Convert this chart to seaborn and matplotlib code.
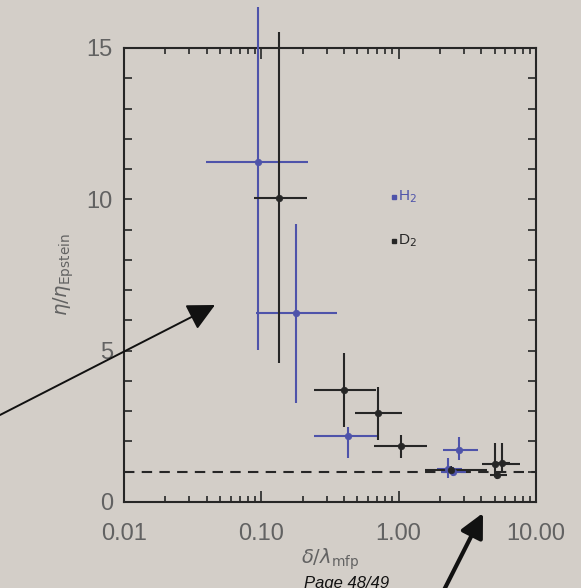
import numpy as np
import pandas as pd
import matplotlib
matplotlib.use("Agg")
import matplotlib.pyplot as plt
from matplotlib.ticker import LogLocator, NullFormatter, MultipleLocator
import seaborn as sns

# H2 measurements: centre values and error-bar bounds
h2_x = [0.095, 0.18, 0.425, 2.74, 2.30, 2.50]
h2_y = [11.24, 6.23, 2.18, 1.72, 1.10, 0.98]
h2_xlo = [0.0395, 0.092, 0.2415, 2.11, 1.90, 2.05]
h2_xhi = [0.218, 0.353, 0.706, 3.80, 2.90, 3.10]
h2_ylo = [5.02, 3.26, 1.45, 1.39, 0.80, 0.85]
h2_yhi = [16.35, 9.2, 2.48, 2.16, 1.45, 1.15]

# D2 measurements
d2_x = [0.1355, 0.40, 0.711, 1.035, 2.40, 5.0, 5.7, 5.2]
d2_y = [10.05, 3.70, 2.93, 1.85, 1.05, 1.27, 1.28, 0.90]
d2_xlo = [0.088, 0.2415, 0.48, 0.66, 1.55, 4.03, 5.0, 4.6]
d2_xhi = [0.214, 0.69, 1.054, 1.60, 4.4, 7.66, 6.5, 6.2]
d2_ylo = [4.58, 2.48, 2.05, 1.44, 0.92, 0.83, 1.0, 0.75]
d2_yhi = [15.54, 4.91, 3.80, 2.21, 1.20, 1.95, 1.95, 1.0]

# Epstein limit
epstein_level = 1.0

x_ticks = [0.01, 0.1, 1.0, 10.0]
x_tick_labels = ["0.01", "0.10", "1.00", "10.00"]
y_ticks = [0, 5, 10, 15]
y_tick_labels = ["0", "5", "10", "15"]

BG = "#d3cec8"
BLUE = "#4e53aa"
BLACK = "#262626"
TEXT = "#626262"

sns.set_theme(style="ticks")
plt.rcParams["font.family"] = ["Liberation Sans", "DejaVu Sans"]
plt.rcParams["mathtext.fontset"] = "dejavusans"

fig = plt.figure(figsize=(5.81, 5.88), dpi=100, facecolor=BG)
ax = fig.add_axes([0.2134, 0.1463, 0.709, 0.7721])
ax.set_facecolor(BG)

def draw_series(xs, ys, xlo, xhi, ylo, yhi, color):
    df = pd.DataFrame({"x": xs, "y": ys})
    xs = np.asarray(xs); ys = np.asarray(ys)
    xerr = [xs - np.asarray(xlo), np.asarray(xhi) - xs]
    yerr = [ys - np.asarray(ylo), np.asarray(yhi) - ys]
    eb = ax.errorbar(xs, ys, xerr=xerr, yerr=yerr, fmt="none",
                     ecolor=color, elinewidth=1.5, capsize=0, zorder=3)
    for coll in eb[2]:
        coll.set_clip_on(False)
    sns.scatterplot(data=df, x="x", y="y", ax=ax, color=color, s=22,
                    edgecolor=color, linewidth=0.5, zorder=4, legend=False)

draw_series(h2_x, h2_y, h2_xlo, h2_xhi, h2_ylo, h2_yhi, BLUE)
draw_series(d2_x, d2_y, d2_xlo, d2_xhi, d2_ylo, d2_yhi, BLACK)

ax.axhline(epstein_level, color=BLACK, lw=1.5, ls=(0, (5, 3.5)), zorder=2)

ax.set_xscale("log")
ax.set_xlim(0.01, 10)
ax.set_ylim(0, 15)
ax.set_xticks(x_ticks, x_tick_labels)
ax.set_yticks(y_ticks, y_tick_labels)
ax.xaxis.set_minor_locator(LogLocator(base=10, subs=np.arange(2, 10)))
ax.xaxis.set_minor_formatter(NullFormatter())
ax.yaxis.set_minor_locator(MultipleLocator(1))

ax.tick_params(axis="both", which="both", direction="in", top=True, right=True,
               color=BLACK, width=1.2)
ax.tick_params(axis="x", which="major", length=8, pad=15, labelsize=17, labelcolor=TEXT)
ax.tick_params(axis="x", which="minor", length=4)
ax.tick_params(axis="y", which="major", length=6, pad=8, labelsize=17, labelcolor=TEXT)
ax.tick_params(axis="y", which="minor", length=6)
for sp in ax.spines.values():
    sp.set_color(BLACK)
    sp.set_linewidth(1.5)

ax.set_xlabel(r"$\delta/\lambda_{\rm mfp}$", fontsize=14, color=TEXT, labelpad=1)
ax.set_ylabel(r"$\eta/\eta_{\rm Epstein}$", fontsize=14, color=TEXT, labelpad=8)

# key
ax.plot([0.655], [0.672], marker="s", ms=3, color=BLUE, transform=ax.transAxes)
ax.text(0.664, 0.672, r"H$_2$", color=BLUE, fontsize=11, va="center",
        transform=ax.transAxes)
ax.plot([0.655], [0.575], marker="s", ms=3, color=BLACK, transform=ax.transAxes)
ax.text(0.664, 0.575, r"D$_2$", color=BLACK, fontsize=11, va="center",
        transform=ax.transAxes)

# pointer arrows
ax.annotate("", xy=(215, 283), xytext=(0, 173), xycoords="figure pixels",
            textcoords="figure pixels",
            arrowprops=dict(arrowstyle="-|>,head_length=1.4,head_width=0.7",
                            color="#111111", lw=1.4, shrinkA=0, shrinkB=0),
            annotation_clip=False)
ax.annotate("", xy=(483, 75), xytext=(444, -2), xycoords="figure pixels",
            textcoords="figure pixels",
            arrowprops=dict(arrowstyle="-|>,head_length=1.2,head_width=0.6",
                            color="#111111", lw=3, shrinkA=0, shrinkB=0),
            annotation_clip=False)

fig.text(304 / 581, 0 / 588, "Page 48/49", fontsize=12, style="italic",
         color="#111111", va="baseline", ha="left")

fig.savefig("out.png", dpi=100, facecolor=BG)
